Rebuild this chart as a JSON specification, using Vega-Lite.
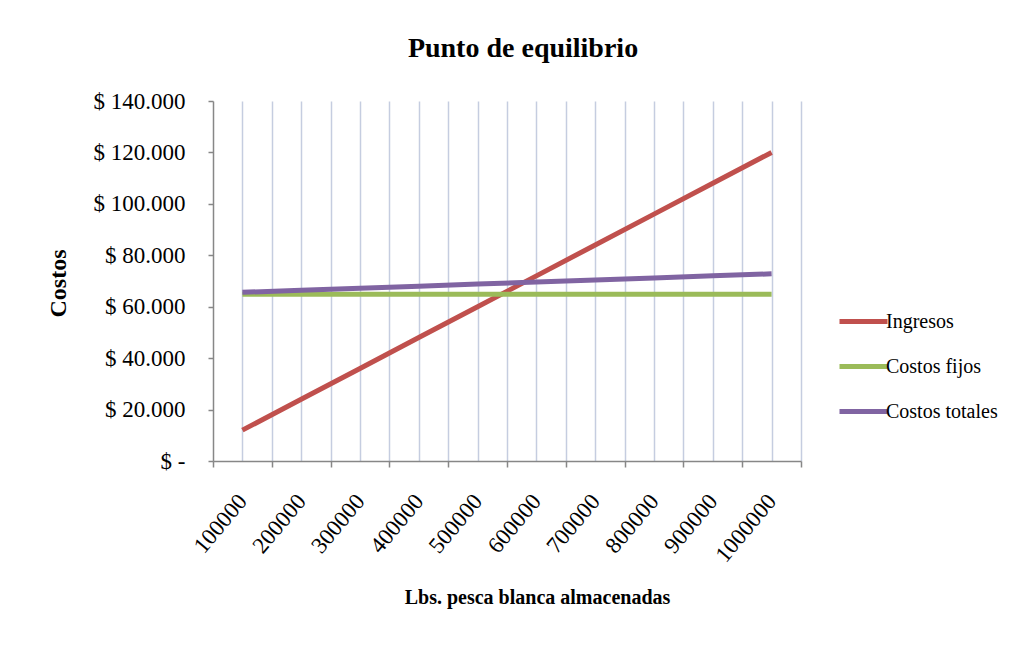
{
  "$schema": "https://vega.github.io/schema/vega-lite/v6.json",
  "width": 588,
  "height": 360,
  "autosize": {"type": "none"},
  "padding": {"left": 213, "top": 101, "right": 226, "bottom": 197},
  "background": "white",
  "title": {"text": "Punto de equilibrio", "font": "Liberation Serif", "fontSize": 28, "fontWeight": "bold", "color": "#000000", "anchor": "middle", "dx": 16, "offset": 5, "baseline": "alphabetic"},
  "data": {"values": [
    {"lbs": 100000, "serie": "Ingresos", "valor": 12000},
    {"lbs": 200000, "serie": "Ingresos", "valor": 24000},
    {"lbs": 300000, "serie": "Ingresos", "valor": 36000},
    {"lbs": 400000, "serie": "Ingresos", "valor": 48000},
    {"lbs": 500000, "serie": "Ingresos", "valor": 60000},
    {"lbs": 600000, "serie": "Ingresos", "valor": 72000},
    {"lbs": 700000, "serie": "Ingresos", "valor": 84000},
    {"lbs": 800000, "serie": "Ingresos", "valor": 96000},
    {"lbs": 900000, "serie": "Ingresos", "valor": 108000},
    {"lbs": 1000000, "serie": "Ingresos", "valor": 120000},
    {"lbs": 100000, "serie": "Costos fijos", "valor": 64800},
    {"lbs": 200000, "serie": "Costos fijos", "valor": 64800},
    {"lbs": 300000, "serie": "Costos fijos", "valor": 64800},
    {"lbs": 400000, "serie": "Costos fijos", "valor": 64800},
    {"lbs": 500000, "serie": "Costos fijos", "valor": 64800},
    {"lbs": 600000, "serie": "Costos fijos", "valor": 64800},
    {"lbs": 700000, "serie": "Costos fijos", "valor": 64800},
    {"lbs": 800000, "serie": "Costos fijos", "valor": 64800},
    {"lbs": 900000, "serie": "Costos fijos", "valor": 64800},
    {"lbs": 1000000, "serie": "Costos fijos", "valor": 64800},
    {"lbs": 100000, "serie": "Costos totales", "valor": 65600},
    {"lbs": 200000, "serie": "Costos totales", "valor": 66400},
    {"lbs": 300000, "serie": "Costos totales", "valor": 67200},
    {"lbs": 400000, "serie": "Costos totales", "valor": 68000},
    {"lbs": 500000, "serie": "Costos totales", "valor": 68800},
    {"lbs": 600000, "serie": "Costos totales", "valor": 69600},
    {"lbs": 700000, "serie": "Costos totales", "valor": 70400},
    {"lbs": 800000, "serie": "Costos totales", "valor": 71200},
    {"lbs": 900000, "serie": "Costos totales", "valor": 72000},
    {"lbs": 1000000, "serie": "Costos totales", "valor": 72800}
  ]},
  "mark": {"type": "line", "strokeWidth": 5, "strokeCap": "butt"},
  "encoding": {
    "x": {
      "field": "lbs", "type": "quantitative",
      "scale": {"domain": [50000, 1050000], "nice": false, "zero": false},
      "axis": {
        "values": [50000, 100000, 150000, 200000, 250000, 300000, 350000, 400000, 450000, 500000, 550000, 600000, 650000, 700000, 750000, 800000, 850000, 900000, 950000, 1000000, 1050000],
        "title": "Lbs. pesca blanca almacenadas",
        "titleFont": "Liberation Serif", "titleFontSize": 20, "titleFontWeight": "bold", "titleColor": "#000000",
        "titleX": 324, "titleY": 142, "titleBaseline": "alphabetic", "titleAlign": "center",
        "labelExpr": "datum.value % 100000 == 0 ? format(datum.value, 'd') : ''",
        "labelAngle": -50, "labelFont": "Liberation Serif", "labelFontSize": 23, "labelColor": "#000000",
        "labelPadding": 30, "labelOverlap": false, "labelBound": false, "labelFlush": false,
        "ticks": true, "tickSize": 6, "tickWidth": 1.5,
        "tickOpacity": {"condition": {"test": "datum.value % 100000 == 50000", "value": 1}, "value": 0},
        "tickColor": "#878787",
        "domainColor": "#878787", "domainWidth": 1.5,
        "grid": true, "gridColor": "#c5cde0", "gridWidth": 1.5,
        "gridOpacity": {"condition": {"test": "datum.value == 50000", "value": 0}, "value": 1}
      }
    },
    "y": {
      "field": "valor", "type": "quantitative",
      "scale": {"domain": [0, 140000], "nice": false},
      "axis": {
        "values": [0, 20000, 40000, 60000, 80000, 100000, 120000, 140000],
        "grid": false,
        "labelExpr": "datum.value == 0 ? '$ -\u00a0\u00a0' : '$ ' + replace(format(datum.value, ',d'), ',', '.')",
        "labelFont": "Liberation Serif", "labelFontSize": 23, "labelColor": "#000000", "labelPadding": 23,
        "tickSize": 5, "tickWidth": 1.5, "tickColor": "#878787",
        "domainColor": "#878787", "domainWidth": 1.5,
        "title": "Costos", "titleFont": "Liberation Serif", "titleFontSize": 24, "titleFontWeight": "bold", "titleColor": "#000000",
        "titleX": -148, "titleY": 182, "titleBaseline": "alphabetic", "titleAngle": -90, "titleAlign": "center"
      }
    },
    "color": {
      "field": "serie", "type": "nominal",
      "scale": {"domain": ["Ingresos", "Costos fijos", "Costos totales"], "range": ["#c0504d", "#9bbb59", "#8064a2"]},
      "legend": {
        "title": null, "orient": "none", "legendX": 624, "legendY": 194,
        "symbolType": "stroke", "symbolSize": 2304, "symbolStrokeWidth": 5,
        "labelFont": "Liberation Serif", "labelFontSize": 20, "labelColor": "#000000", "labelOffset": -4,
        "rowPadding": 8, "padding": 0
      }
    }
  },
  "config": {"view": {"stroke": null}}
}
